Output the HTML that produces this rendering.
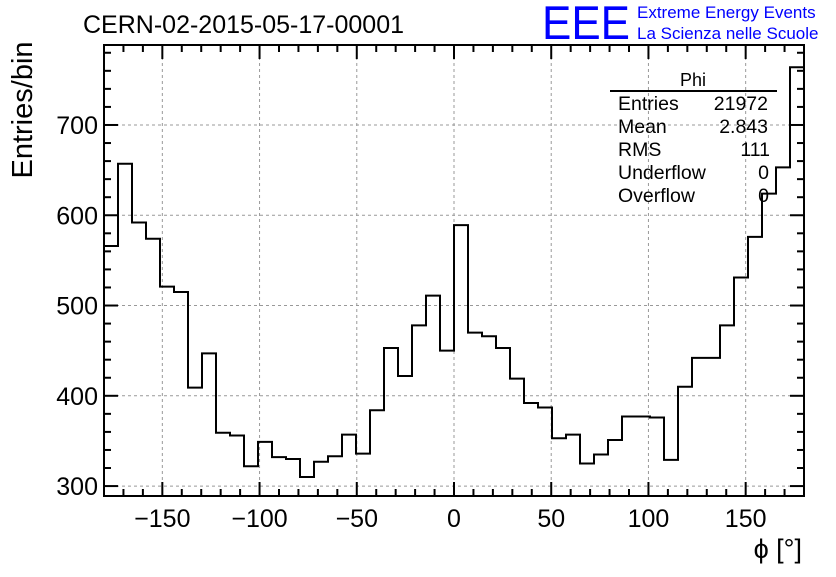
<!DOCTYPE html>
<html><head><meta charset="utf-8"><style>
body{margin:0;background:#fff;width:836px;height:572px;overflow:hidden}
svg{font-family:"Liberation Sans",sans-serif}
</style></head><body>
<svg id="c" width="836" height="572" xmlns="http://www.w3.org/2000/svg">
<text x="83" y="33" font-size="25">CERN-02-2015-05-17-00001</text>
<text x="542" y="39" font-size="47" fill="#0000ff" textLength="88" lengthAdjust="spacingAndGlyphs">EEE</text>
<text x="637" y="18" font-size="17" fill="#0000ff">Extreme Energy Events</text>
<text x="637" y="39" font-size="17" fill="#0000ff">La Scienza nelle Scuole</text>
<text transform="translate(32,110) rotate(-90)" text-anchor="middle" font-size="29">Entries/bin</text>
<text x="802" y="558" text-anchor="end" font-size="27">ϕ [°]</text>
<g id="grid"></g><g id="ticks"></g><g id="hist"></g>
<rect x="104" y="45" width="700" height="451" fill="none" stroke="#000" stroke-width="2"/>
<g>
<text x="693" y="86" text-anchor="middle" font-size="18">Phi</text>
<line x1="610" y1="91" x2="777" y2="91" stroke="#000" stroke-width="2"/>
<g font-size="19.5">
<text x="618" y="110">Entries</text><text x="768" y="110" text-anchor="end">21972</text>
<text x="618" y="133">Mean</text><text x="768" y="133" text-anchor="end">2.843</text>
<text x="618" y="156">RMS</text><text x="770" y="156" text-anchor="end">111</text>
<text x="618" y="179">Underflow</text><text x="769" y="179" text-anchor="end">0</text>
<text x="618" y="202">Overflow</text><text x="769" y="202" text-anchor="end">0</text>
</g></g>
</svg>
<script>
const binEdges = [-180, 180];
const counts = [566,657,592,574,521,515,409,447,359,356,322,349,332,330,310,327,333,357,336,384,453,422,478,511,450,589,470,466,453,419,392,387,353,357,325,335,351,377,377,376,329,410,442,442,478,531,576,624,653,764];
const xTicks = [-150,-100,-50,0,50,100,150];
const yTicks = [300,400,500,600,700];
const NS='http://www.w3.org/2000/svg';
const L=104,R=804,T=45,B=496,xmin=-180,xmax=180,ymin=289,ymax=788.6;
const X=v=>L+(v-xmin)/(xmax-xmin)*(R-L);
const Y=v=>B-(v-ymin)/(ymax-ymin)*(B-T);
function mk(tag,attrs,parent){const e=document.createElementNS(NS,tag);for(const k in attrs)e.setAttribute(k,attrs[k]);document.getElementById(parent).appendChild(e);return e;}
xTicks.forEach(t=>{
  const g=mk('line',{x1:X(t),x2:X(t),y1:T,y2:B,stroke:'#999','stroke-dasharray':'3,3'},'grid');
  
  
  const lb=mk('text',{x:X(t),y:527,'text-anchor':'middle','font-size':25},'ticks');
  lb.textContent=t<0?'\u2212'+(-t):String(t);
  
  
});
yTicks.forEach(t=>{
  const g=mk('line',{x1:L,x2:R,y1:Y(t),y2:Y(t),stroke:'#999','stroke-dasharray':'3,3'},'grid');
  
  
  const lb=mk('text',{x:98,y:Y(t)+9,'text-anchor':'end','font-size':25},'ticks');
  lb.textContent=String(t);
  
  
});
for(let v=-180;v<=180;v+=10){const len=(v%50===0)?14:7;
  mk('line',{x1:X(v),x2:X(v),y1:B,y2:B-len,stroke:'#000','stroke-width':2},'ticks');
  mk('line',{x1:X(v),x2:X(v),y1:T,y2:T+len,stroke:'#000','stroke-width':2},'ticks');}
for(let v=300;v<=780;v+=20){const len=(v%100===0)?14:7;
  mk('line',{x1:L,x2:L+len,y1:Y(v),y2:Y(v),stroke:'#000','stroke-width':2},'ticks');
  mk('line',{x1:R,x2:R-len,y1:Y(v),y2:Y(v),stroke:'#000','stroke-width':2},'ticks');}
const n=counts.length,w=(binEdges[1]-binEdges[0])/n;
let d='';
counts.forEach((c,i)=>{const x0=X(binEdges[0]+i*w),x1=X(binEdges[0]+(i+1)*w),y=Y(c);
  d+=(i===0?'M':'L')+x0+','+y+'L'+x1+','+y;});
const p=mk('path',{d:d,fill:'none',stroke:'#000','stroke-width':2},'hist');


</script>
</body></html>
